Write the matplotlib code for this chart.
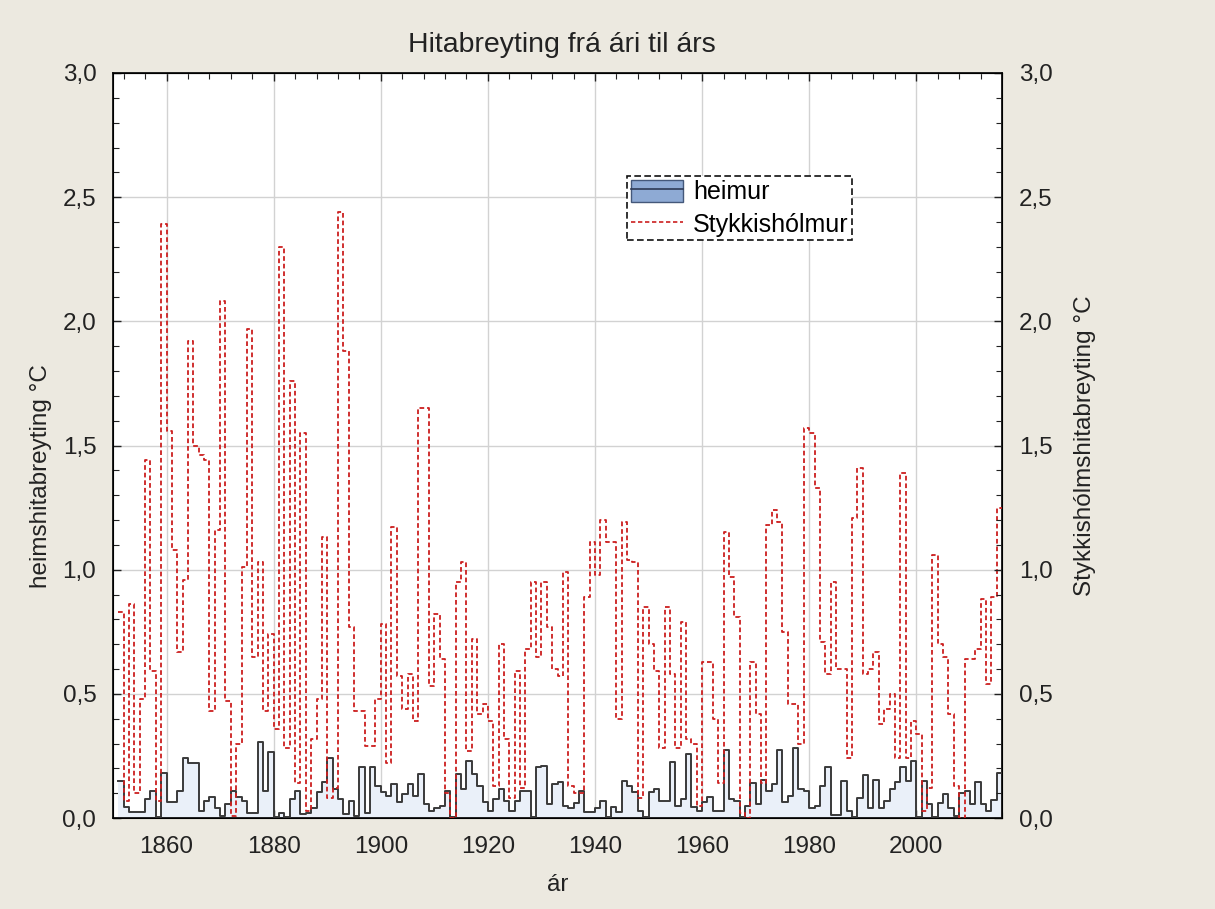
import matplotlib
matplotlib.use('Agg')
import matplotlib.pyplot as plt
from matplotlib.patches import Patch
from matplotlib.lines import Line2D
from matplotlib.ticker import MultipleLocator, FuncFormatter
import numpy as np

plt.rcParams['font.family'] = ['Liberation Sans', 'DejaVu Sans']

# ---------------- data ----------------
years = list(range(1851, 2016))

# Stykkishólmur, absolute change from previous year (°C)
stykkisholmur = [
    0.83, 0.07, 0.86, 0.10, 0.48, 1.44, 0.59, 0.07, 2.39,              # 1851-1859
    1.56, 1.08, 0.67, 0.96, 1.92, 1.50, 1.46, 1.44, 0.43, 1.16,        # 1860s
    2.08, 0.47, 0.01, 0.30, 1.01, 1.97, 0.65, 1.03, 0.43, 0.74,        # 1870s
    0.36, 2.30, 0.28, 1.76, 0.14, 1.55, 0.03, 0.32, 0.48, 1.13,        # 1880s
    0.08, 0.12, 2.44, 1.88, 0.77, 0.43, 0.43, 0.29, 0.29, 0.48,        # 1890s
    0.78, 0.22, 1.17, 0.57, 0.44, 0.58, 0.39, 1.65, 1.65, 0.53,        # 1900s
    0.82, 0.64, 0.10, 0.00, 0.95, 1.03, 0.27, 0.72, 0.42, 0.46,        # 1910s
    0.39, 0.13, 0.70, 0.32, 0.08, 0.59, 0.12, 0.68, 0.95, 0.65,        # 1920s
    0.95, 0.77, 0.60, 0.57, 0.99, 0.13, 0.10, 0.10, 0.89, 1.11,        # 1930s
    0.98, 1.20, 1.11, 1.11, 0.40, 1.19, 1.04, 1.03, 0.08, 0.85,        # 1940s
    0.70, 0.59, 0.28, 0.85, 0.58, 0.28, 0.79, 0.32, 0.30, 0.05,        # 1950s
    0.63, 0.63, 0.40, 0.14, 1.15, 0.97, 0.81, 0.02, 0.00, 0.63,        # 1960s
    0.42, 0.14, 1.18, 1.24, 1.19, 0.75, 0.46, 0.46, 0.30, 1.57,        # 1970s
    1.55, 1.33, 0.71, 0.58, 0.95, 0.60, 0.60, 0.24, 1.21, 1.41,        # 1980s
    0.58, 0.60, 0.67, 0.38, 0.44, 0.50, 0.24, 1.39, 0.24, 0.39,        # 1990s
    0.34, 0.03, 0.12, 1.06, 0.70, 0.65, 0.42, 0.13, 0.00, 0.64,        # 2000s
    0.64, 0.68, 0.88, 0.54, 0.89, 1.25,                                # 2010-2015
]

# global mean, absolute change from previous year (°C)
heimur = [
    0.148, 0.046, 0.024, 0.024, 0.024, 0.077, 0.110, 0.005, 0.180,                 # 1851-1859
    0.064, 0.064, 0.110, 0.240, 0.220, 0.220, 0.027, 0.070, 0.086, 0.040,          # 1860s
    0.010, 0.057, 0.108, 0.085, 0.070, 0.020, 0.020, 0.305, 0.108, 0.265,          # 1870s
    0.003, 0.020, 0.003, 0.077, 0.108, 0.016, 0.020, 0.040, 0.104, 0.144,          # 1880s
    0.240, 0.117, 0.077, 0.017, 0.070, 0.010, 0.205, 0.020, 0.205, 0.130,          # 1890s
    0.104, 0.090, 0.137, 0.064, 0.097, 0.137, 0.090, 0.178, 0.057, 0.027,          # 1900s
    0.040, 0.050, 0.110, 0.003, 0.178, 0.117, 0.230, 0.178, 0.130, 0.064,          # 1910s
    0.030, 0.077, 0.117, 0.067, 0.030, 0.067, 0.108, 0.108, 0.003, 0.205,          # 1920s
    0.210, 0.057, 0.135, 0.144, 0.050, 0.040, 0.060, 0.110, 0.024, 0.024,          # 1930s
    0.040, 0.070, 0.003, 0.046, 0.024, 0.148, 0.130, 0.104, 0.030, 0.003,          # 1940s
    0.104, 0.117, 0.070, 0.070, 0.225, 0.050, 0.077, 0.258, 0.043, 0.027,          # 1950s
    0.064, 0.086, 0.030, 0.030, 0.272, 0.077, 0.070, 0.003, 0.050, 0.140,          # 1960s
    0.057, 0.154, 0.110, 0.137, 0.274, 0.064, 0.090, 0.282, 0.117, 0.108,          # 1970s
    0.040, 0.050, 0.127, 0.205, 0.013, 0.013, 0.148, 0.030, 0.003, 0.080,          # 1980s
    0.175, 0.040, 0.154, 0.040, 0.067, 0.117, 0.144, 0.205, 0.148, 0.228,          # 1990s
    0.003, 0.148, 0.057, 0.003, 0.060, 0.097, 0.040, 0.010, 0.100, 0.108,          # 2000s
    0.057, 0.144, 0.057, 0.030, 0.073, 0.180,                                      # 2010-2015
]

x_ticks = [1860, 1880, 1900, 1920, 1940, 1960, 1980, 2000]

# step plots need one extra edge at the end
x_ext = np.append(years, years[-1] + 1)
st_ext = np.append(stykkisholmur, stykkisholmur[-1])
he_ext = np.append(heimur, heimur[-1])

# ---------------- figure ----------------
bg = '#ece9e0'
txt = '#222222'
fig = plt.figure(figsize=(12.15, 9.09), dpi=100, facecolor=bg)
ax = fig.add_axes([113 / 1215, 1 - 818 / 909, (1002 - 113) / 1215, (818 - 73) / 909])
ax.set_facecolor('white')

ax.fill_between(x_ext, he_ext, step='post', color='#eaf0f9', lw=0, zorder=2)
ax.step(x_ext, he_ext, where='post', color='#3a3a3a', lw=1.4, zorder=3)
ax.step(x_ext, st_ext, where='post', color='#cc1f1f', lw=1.3,
        dashes=(2.6, 1.6), zorder=4)

ax.set_xlim(1850, 2016)
ax.set_ylim(0, 3)

comma = FuncFormatter(lambda v, p: f'{v:.1f}'.replace('.', ','))

ax.set_xticks(x_ticks)
ax.xaxis.set_minor_locator(MultipleLocator(4))
ax.yaxis.set_major_locator(MultipleLocator(0.5))
ax.yaxis.set_minor_locator(MultipleLocator(0.1))
ax.yaxis.set_major_formatter(comma)
ax.grid(True, which='major', color='#d2d2d2', lw=1, zorder=1)
ax.set_axisbelow(True)

ax.tick_params(which='both', direction='in', top=True, colors=txt, labelsize=17.5)
ax.tick_params(axis='y', pad=12)
ax.tick_params(axis='x', pad=13)
ax.tick_params(which='major', length=6, width=1)
ax.tick_params(which='minor', length=4, width=0.8)
for s in ax.spines.values():
    s.set_color('#111111')
    s.set_linewidth(1.3)

ax2 = ax.twinx()
ax2.set_ylim(0, 3)
ax2.yaxis.set_major_locator(MultipleLocator(0.5))
ax2.yaxis.set_minor_locator(MultipleLocator(0.1))
ax2.yaxis.set_major_formatter(comma)
ax2.tick_params(which='both', direction='in', colors=txt, labelsize=17.5, pad=12)
ax2.tick_params(which='major', length=6, width=1)
ax2.tick_params(which='minor', length=4, width=0.8)

ax.set_xlabel('ár', fontsize=17.5, color=txt, va='center')
ax.xaxis.set_label_coords(0.5, (818 - 885) / 745)
ax.set_ylabel('heimshitabreyting °C', fontsize=17.5, color=txt, va='center')
ax.yaxis.set_label_coords((41 - 113) / 889, (818 - 476) / 745)
ax2.set_ylabel('Stykkishólmshitabreyting °C', fontsize=17.5, color=txt, va='center')
ax2.yaxis.set_label_coords((1085 - 113) / 889, 0.5)

fig.text(562 / 1215, 1 - 45 / 909, 'Hitabreyting frá ári til árs', ha='center',
         va='center', fontsize=20.5, color=txt)

h1 = (Patch(facecolor='#8eaad4', edgecolor='#44587a', lw=1),
      Line2D([], [], color='#2d3a55', lw=1.2))
h2 = Line2D([], [], color='#cc1f1f', lw=1.2, dashes=(2.6, 1.6))
leg = ax2.legend([h1, h2], ['heimur', 'Stykkishólmur'], loc='upper left',
                 bbox_to_anchor=(0.578, 0.862), fontsize=18, frameon=True,
                 fancybox=False, borderpad=0.15, handlelength=2.1,
                 handleheight=1.0, handletextpad=0.4, labelspacing=0.3,
                 borderaxespad=0)
fr = leg.get_frame()
fr.set_edgecolor('#111111')
fr.set_linestyle((0, (4, 2)))
fr.set_linewidth(1.2)
fr.set_facecolor('white')
fr.set_alpha(1)

fig.savefig('out.png', dpi=100, facecolor=bg)
